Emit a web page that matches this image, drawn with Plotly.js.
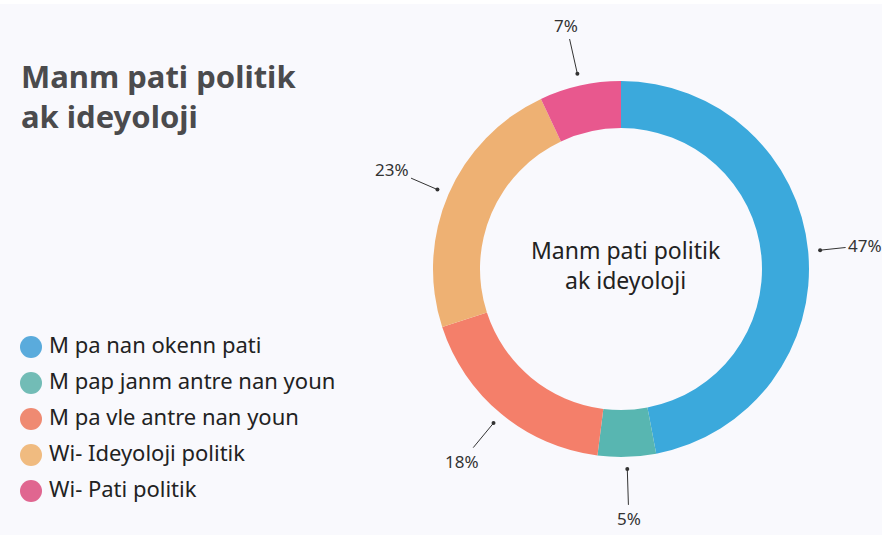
<!DOCTYPE html>
<html>
<head>
<meta charset="utf-8">
<script src="https://cdn.plot.ly/plotly-3.0.1.min.js"></script>
<style>html,body{margin:0;padding:0;background:#f9f9fd;}#chart{width:882px;height:535px;}</style>
</head>
<body>
<div id="chart"></div>
<script>
var categories = ["M pa nan okenn pati", "M pap janm antre nan youn", "M pa vle antre nan youn", "Wi- Ideyoloji politik", "Wi- Pati politik"];
var values = [47, 5, 18, 23, 7];
var colors = ["#3ba9dc", "#58b6b1", "#f47f6a", "#eeb173", "#e8588e"];
var legendColors = ["#5aabdc", "#72bcb6", "#ef8a72", "#f0bb80", "#e06690"];
var chartTitle = "Manm pati politik<br>ak ideyoloji";
var centerText = "Manm pati politik<br>ak ideyoloji";

var W = 882, H = 535;
var cx = 621, cy = 269, R = 188;

var pie = {
  type: "pie",
  values: values,
  labels: categories,
  marker: {colors: colors, line: {width: 0}},
  hole: 0.75,
  sort: false,
  direction: "clockwise",
  rotation: 0,
  textinfo: "none",
  showlegend: false,
  domain: {x: [(cx - R) / W, (cx + R) / W], y: [(H - cy - R) / H, (H - cy + R) / H]}
};

// custom legend with round markers
var idx = categories.map(function (c, i) { return i; });
var legendMarkers = {
  type: "scatter", mode: "markers",
  x: idx.map(function () { return 31; }), y: idx,
  marker: {size: 22, color: legendColors},
  hoverinfo: "skip", showlegend: false, xaxis: "x", yaxis: "y"
};
var legendText = {
  type: "scatter", mode: "text",
  x: idx.map(function () { return 49; }), y: idx,
  text: categories, textposition: "middle right",
  textfont: {family: "Noto Sans", size: 22, color: "#222222"},
  hoverinfo: "skip", showlegend: false, xaxis: "x", yaxis: "y"
};

// percentage labels with leader lines
var total = values.reduce(function (a, b) { return a + b; }, 0);
var annotations = [];
var cum = 0;
values.forEach(function (v) {
  var mid = (cum + v / 2) / total;
  cum += v;
  var th = mid * 2 * Math.PI;
  var s = Math.sin(th), c = Math.cos(th);
  var rDot = R + 12, rText = R + 62;
  var dx = (rText - rDot) * s;
  if (dx > 45) { dx = 45; }
  annotations.push({
    xref: "paper", yref: "paper",
    x: (cx + rDot * s) / W, y: (H - cy + rDot * c) / H,
    ax: dx, ay: -(rText - rDot) * c,
    text: Math.round(v / total * 100) + "%",
    showarrow: true, arrowhead: 6, arrowsize: 1, arrowwidth: 1, arrowcolor: "#333333",
    font: {family: "Noto Sans", size: 17, color: "#333333"},
    standoff: 0, borderpad: 2
  });
});
annotations.push({
  xref: "paper", yref: "paper", x: (cx + 5) / W, y: (H - cy + 4) / H,
  xanchor: "center", yanchor: "middle",
  text: centerText, showarrow: false,
  font: {family: "Noto Sans", size: 23, color: "#222222"}
});
annotations.push({
  xref: "paper", yref: "paper", x: 19 / W, y: 1 - 53 / H, xanchor: "left", yanchor: "top",
  text: "<b>" + chartTitle + "</b>", showarrow: false, align: "left",
  font: {family: "Noto Sans", size: 31, color: "#4b4b4d"}
});

var layout = {
  width: W, height: H,
  margin: {l: 0, r: 0, t: 0, b: 0},
  paper_bgcolor: "#f9f9fd",
  plot_bgcolor: "rgba(0,0,0,0)",
  showlegend: false,
  xaxis: {visible: false, domain: [0, 0.5], range: [0, 441], fixedrange: true},
  yaxis: {visible: false, domain: [1 - 509 / H, 1 - 329 / H], range: [4.5, -0.5], fixedrange: true},
  annotations: annotations,
  shapes: [{type: "rect", xref: "paper", yref: "paper", x0: 0, x1: 1, y0: 1 - 4 / H, y1: 1, fillcolor: "#ffffff", line: {width: 0}, layer: "below"}]
};

Plotly.newPlot("chart", [pie, legendMarkers, legendText], layout, {displayModeBar: false, staticPlot: true});
</script>
</body>
</html>
